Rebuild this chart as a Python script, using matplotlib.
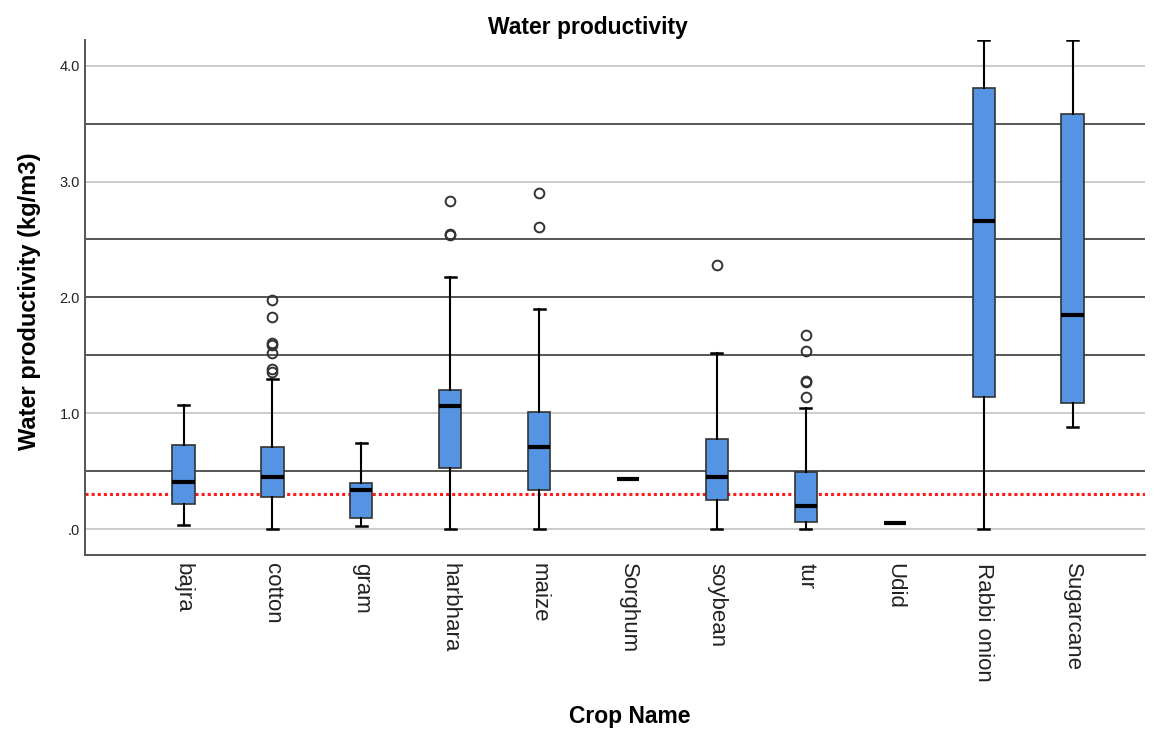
import matplotlib
matplotlib.use("Agg")
import matplotlib.pyplot as plt

plt.rcParams["font.family"] = ["Liberation Sans", "DejaVu Sans"]

# Datos (cuartiles, bigotes, atipicos)
crops = ["bajra", "cotton", "gram", "harbhara", "maize", "Sorghum",
         "soybean", "tur", "Udid", "Rabbi onion", "Sugarcane"]
whisker_low = [0.04, 0.00, 0.03, 0.00, 0.00, 0.43, 0.00, 0.00, 0.05, 0.00, 0.88]
q1 = [0.22, 0.28, 0.10, 0.53, 0.34, 0.43, 0.25, 0.06, 0.05, 1.14, 1.09]
median = [0.41, 0.45, 0.34, 1.06, 0.71, 0.43, 0.45, 0.20, 0.05, 2.66, 1.85]
q3 = [0.73, 0.71, 0.40, 1.20, 1.01, 0.43, 0.78, 0.49, 0.05, 3.81, 3.58]
whisker_high = [1.07, 1.30, 0.74, 2.18, 1.90, 0.43, 1.52, 1.05, 0.05, 4.22, 4.22]
outliers = [
    [],
    [1.98, 1.83, 1.61, 1.59, 1.52, 1.38, 1.36],
    [],
    [2.83, 2.55, 2.54],
    [2.90, 2.61],
    [],
    [2.28],
    [1.68, 1.54, 1.28, 1.27, 1.14],
    [],
    [],
    [],
]

ref_lines = [0.5, 1.5, 2.0, 2.5, 3.5]
red_line = 0.3
y_ticks = [0.0, 1.0, 2.0, 3.0, 4.0]
y_tick_labels = [".0", "1.0", "2.0", "3.0", "4.0"]

stats = []
for i, name in enumerate(crops):
    stats.append({
        "label": name,
        "whislo": whisker_low[i],
        "q1": q1[i],
        "med": median[i],
        "q3": q3[i],
        "whishi": whisker_high[i],
        "fliers": outliers[i],
    })

fig = plt.figure(figsize=(11.62, 7.29), dpi=100)
ax = fig.add_axes([0.073, 0.239, 0.912, 0.706])

# lineas de cuadricula y referencia
for t in y_ticks:
    ax.axhline(t, color="#cccccc", lw=1.4, zorder=0)
for r in ref_lines:
    ax.axhline(r, color="#555555", lw=1.4, zorder=0.5)
ax.axhline(red_line, color="#ff1a1a", lw=2.2, ls=(0, (1, 1.0)), zorder=1)

ax.bxp(stats, positions=range(len(crops)), widths=0.25, patch_artist=True,
       boxprops=dict(facecolor="#5494e2", edgecolor="#333333", lw=1.2),
       medianprops=dict(color="black", lw=3),
       whiskerprops=dict(color="black", lw=1.5),
       capprops=dict(color="black", lw=1.8),
       capwidths=0.125,
       flierprops=dict(marker="o", markerfacecolor="none",
                       markeredgecolor="#333333", markersize=7, mew=1.4),
       zorder=2)

ax.set_xlim(-1.11, 10.81)
ax.set_ylim(-0.22, 4.22)
ax.set_yticks(y_ticks)
ax.set_yticklabels(y_tick_labels, fontsize=10.5)
ax.set_xticks(range(len(crops)))
ax.set_xticklabels(crops, rotation=270, fontsize=16, va="top")
ax.tick_params(axis="both", length=0, colors="#222222")
ax.tick_params(axis="x", pad=6)

for s in ["top", "right"]:
    ax.spines[s].set_visible(False)
for s in ["left", "bottom"]:
    ax.spines[s].set_color("#555555")
    ax.spines[s].set_linewidth(1.4)

fig.text(0.025, 0.587, "Water productivity (kg/m3)", ha="center", va="center",
         rotation=90, fontsize=17, fontweight="bold")
fig.text(0.542, 0.0165, "Crop Name", ha="center", va="center",
         fontsize=16.5, fontweight="bold")
fig.text(0.506, 0.962, "Water productivity", ha="center", va="center",
         fontsize=16.5, fontweight="bold")

fig.savefig("out.png", dpi=100)
